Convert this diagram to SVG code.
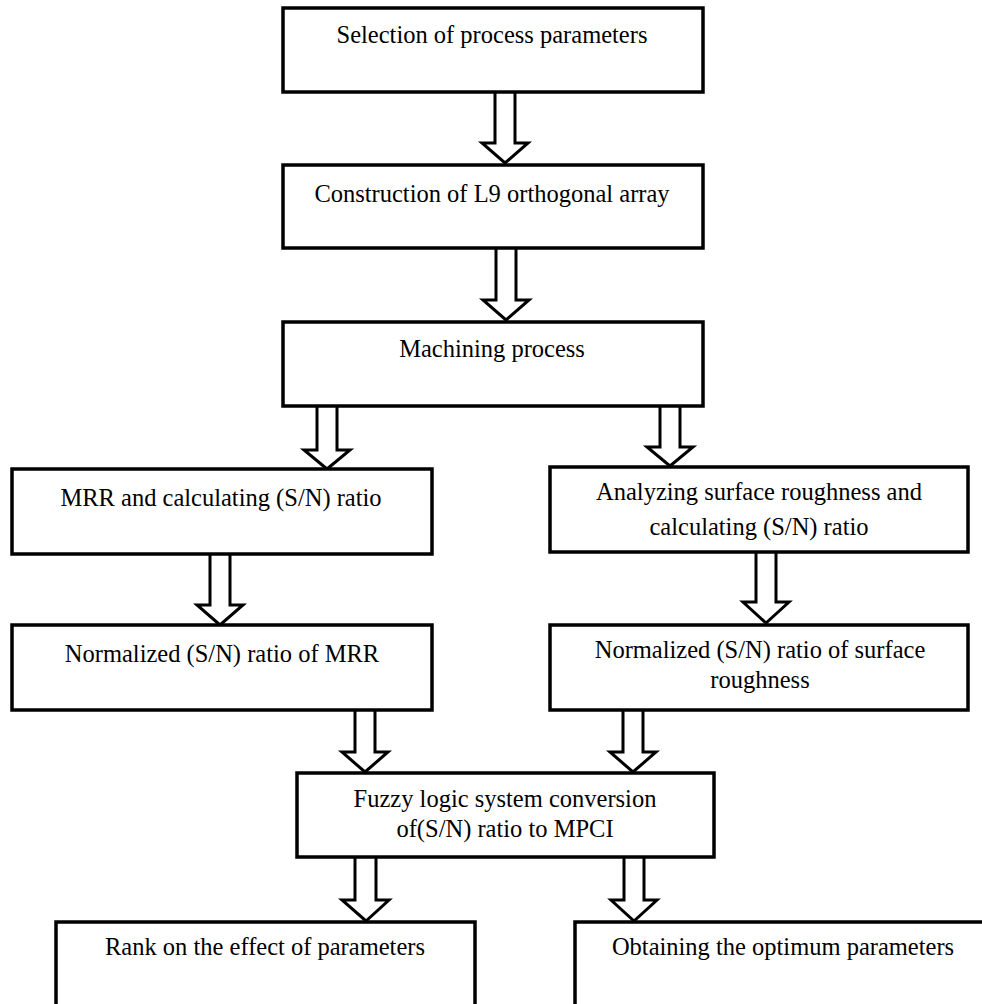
<svg xmlns="http://www.w3.org/2000/svg" width="982" height="1004" viewBox="0 0 982 1004">
<style>
.box{fill:#fff;stroke:#000;stroke-width:3.5}
.arr{fill:#fff;stroke:#000;stroke-width:3;stroke-linejoin:miter}
.t{font-family:"Liberation Serif","Times New Roman",serif;font-size:24.5px;fill:#000;text-anchor:middle}
</style>
<rect width="982" height="1004" fill="#fff"/>
<g id="connectors">
<path class="arr" d="M495,92 V143 H482 L505,163 L528,143 H515 V92"/>
<path class="arr" d="M496,248 V300 H483 L506,320 L529,300 H516 V248"/>
<path class="arr" d="M317,406 V450 H304 L327,469 L350,450 H337 V406"/>
<path class="arr" d="M660,406 V447 H647 L670,466 L693,447 H680 V406"/>
<path class="arr" d="M210,554 V605 H197 L220,625 L243,605 H230 V554"/>
<path class="arr" d="M756,552 V602 H743 L766,623 L789,602 H776 V552"/>
<path class="arr" d="M355,710 V752 H342 L365,772 L388,752 H375 V710"/>
<path class="arr" d="M623,710 V752 H610 L633,772 L656,752 H643 V710"/>
<path class="arr" d="M355,857 V900 H342 L366,921 L389,900 H376 V857"/>
<path class="arr" d="M624,857 V900 H611 L634,921 L657,900 H644 V857"/>
</g>
<g id="n1"><rect class="box" x="283" y="8" width="420" height="84"/><text class="t" x="492" y="43">Selection of process parameters</text></g>
<g id="n2"><rect class="box" x="283" y="165" width="420" height="83"/><text class="t" x="492" y="202">Construction of L9 orthogonal array</text></g>
<g id="n3"><rect class="box" x="283" y="322" width="420" height="84"/><text class="t" x="492" y="357">Machining process</text></g>
<g id="n4"><rect class="box" x="12" y="469" width="420" height="85"/><text class="t" x="221" y="506">MRR and calculating (S/N) ratio</text></g>
<g id="n5"><rect class="box" x="550" y="467" width="418" height="85"/><text class="t" x="759" y="500">Analyzing surface roughness and</text><text class="t" x="759" y="535">calculating (S/N) ratio</text></g>
<g id="n6"><rect class="box" x="12" y="625" width="420" height="85"/><text class="t" x="222" y="662">Normalized (S/N) ratio of MRR</text></g>
<g id="n7"><rect class="box" x="550" y="625" width="418" height="85"/><text class="t" x="760" y="658">Normalized (S/N) ratio of surface</text><text class="t" x="760" y="688">roughness</text></g>
<g id="n8"><rect class="box" x="297" y="773" width="417" height="84"/><text class="t" x="505" y="807">Fuzzy logic system conversion</text><text class="t" x="505" y="837">of(S/N) ratio to MPCI</text></g>
<g id="n9"><rect class="box" x="56" y="922" width="419" height="90"/><text class="t" x="265" y="955">Rank on the effect of parameters</text></g>
<g id="n10"><rect class="box" x="575" y="922" width="420" height="90"/><text class="t" x="783" y="955">Obtaining the optimum parameters</text></g>
</svg>
